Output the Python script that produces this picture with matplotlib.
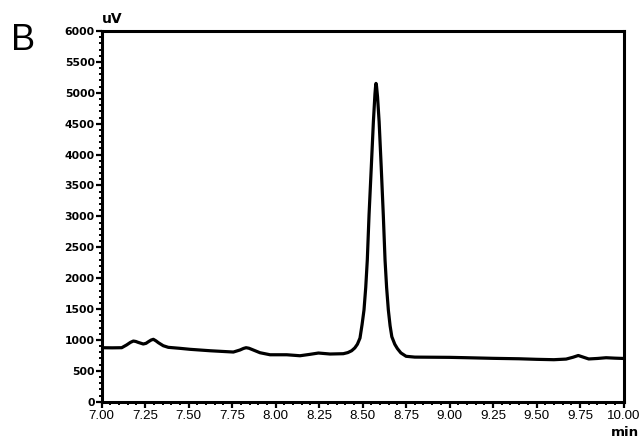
import matplotlib
matplotlib.use("Agg")
import matplotlib.pyplot as plt
from matplotlib.ticker import MultipleLocator, FormatStrFormatter

# chromatogram (time in min, signal in uV)
times = [7.00, 7.06, 7.115, 7.144, 7.165, 7.182, 7.196, 7.210, 7.239, 7.255,
         7.268, 7.284, 7.297, 7.312, 7.326, 7.354, 7.383, 7.45, 7.508,
         7.623, 7.757, 7.795, 7.815, 7.830, 7.846, 7.862, 7.91, 7.968, 8.064,
         8.14, 8.198, 8.246, 8.313, 8.389, 8.415, 8.437, 8.455, 8.470,
         8.485, 8.497, 8.508, 8.518, 8.527, 8.537, 8.550, 8.562, 8.571,
         8.5745, 8.577, 8.580, 8.586, 8.595, 8.607, 8.619, 8.629, 8.638,
         8.648, 8.658, 8.668, 8.685, 8.70, 8.72, 8.75, 8.80, 9.00, 9.10,
         9.25, 9.40, 9.50, 9.60, 9.67, 9.71, 9.74, 9.77, 9.80, 9.85, 9.90,
         9.95, 10.00]
signal = [874, 872, 874, 920, 960, 982, 975, 960, 934, 945,
          970, 998, 1010, 985, 955, 906, 880, 864, 848,
          825, 804, 837, 862, 874, 866, 848, 793, 760, 760,
          744, 767, 788, 772, 777, 795, 825, 870, 930,
          1030, 1250, 1484, 1850, 2293, 3021, 3800, 4531, 4980,
          5100, 5152, 5110, 4930, 4531, 3800, 3021, 2293, 1850,
          1484, 1230, 1052, 930, 860, 790, 735, 722, 718, 712,
          702, 695, 686, 680, 690, 720, 748, 720, 692, 700, 712,
          705, 700]

xticks = [7.00, 7.25, 7.50, 7.75, 8.00, 8.25, 8.50, 8.75, 9.00, 9.25, 9.50, 9.75, 10.00]
yticks = [0, 500, 1000, 1500, 2000, 2500, 3000, 3500, 4000, 4500, 5000, 5500, 6000]

fig = plt.figure(figsize=(6.42, 4.43), dpi=100)
ax = fig.add_axes([0.1584, 0.0932, 0.8128, 0.8368])

ax.plot(times, signal, color="black", lw=2.3, solid_joinstyle="round",
        solid_capstyle="round")

ax.set_xlim(7.0, 10.0)
ax.set_ylim(0, 6000)
ax.set_xticks(xticks)
ax.set_yticks(yticks)
ax.xaxis.set_major_formatter(FormatStrFormatter("%.2f"))
ax.xaxis.set_minor_locator(MultipleLocator(0.05))
ax.yaxis.set_minor_locator(MultipleLocator(100))

for s in ax.spines.values():
    s.set_linewidth(2.2)

ax.tick_params(which="major", direction="out", length=4, width=1.6, top=False, right=False)
ax.tick_params(which="minor", direction="out", length=2, width=1.4, top=False, right=False)
ax.tick_params(axis="x", pad=2)
ax.tick_params(axis="y", pad=1)

for lab in ax.get_xticklabels():
    lab.set_family("Liberation Sans")
    lab.set_fontsize(9.6)
for lab in ax.get_yticklabels():
    lab.set_family("DejaVu Sans")
    lab.set_fontweight("bold")
    lab.set_fontsize(7.8)

fig.text(102 / 642, 1 - 23 / 443, "uV", fontsize=10, fontweight="bold",
         family="DejaVu Sans", ha="left", va="baseline")
fig.text(639 / 642, 1 - 436.5 / 443, "min", fontsize=9.6, fontweight="bold",
         family="DejaVu Sans", ha="right", va="baseline")
fig.text(11 / 642, 1 - 50 / 443, "B", fontsize=26,
         family="Liberation Sans", ha="left", va="baseline")

fig.savefig("out.png", dpi=100)
